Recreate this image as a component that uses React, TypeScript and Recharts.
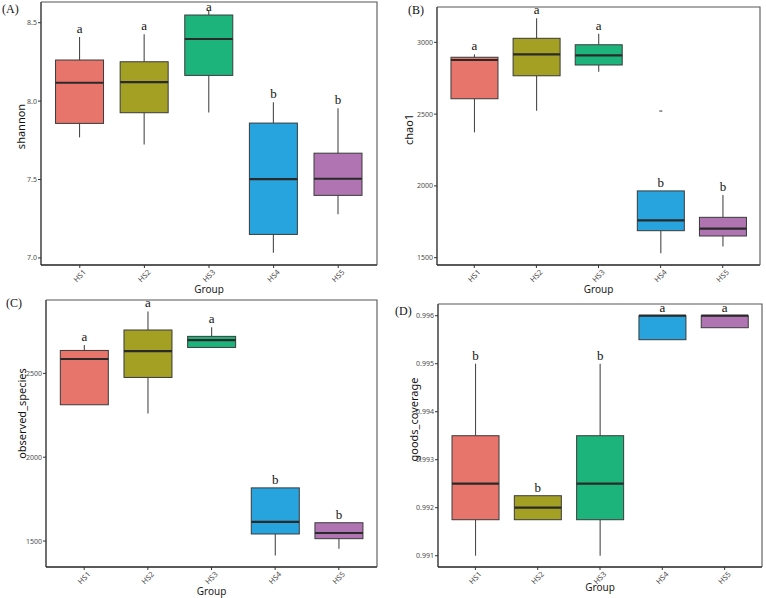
import React from 'react';
import { ComposedChart, Bar, XAxis, YAxis } from 'recharts';

const groups = ['HS1', 'HS2', 'HS3', 'HS4', 'HS5'];
const groupColors = ['#E8756B', '#A3A024', '#1DB47C', '#27A4DE', '#B074B2'];

// (A) shannon
const shannonMin = [7.769, 7.724, 7.928, 7.033, 7.279];
const shannonQ1 = [7.858, 7.926, 8.164, 7.15, 7.399];
const shannonMedian = [8.117, 8.121, 8.396, 7.503, 7.505];
const shannonQ3 = [8.262, 8.251, 8.549, 7.86, 7.668];
const shannonMax = [8.409, 8.426, 8.581, 7.992, 7.954];
const shannonLetters = ['a', 'a', 'a', 'b', 'b'];
const shannonTicks = [7.0, 7.5, 8.0, 8.5];
const shannonDomain = [6.955, 8.632];

// (B) chao1
const chao1Min = [2373, 2524, 2795, 1531, 1577];
const chao1Q1 = [2607, 2767, 2842, 1688, 1651];
const chao1Median = [2877, 2916, 2909, 1760, 1702];
const chao1Q3 = [2896, 3028, 2983, 1965, 1781];
const chao1Max = [2916, 3167, 3060, 1965, 1937];
const chao1Outliers = [[], [], [], [2522], []];
const chao1Letters = ['a', 'a', 'a', 'b', 'b'];
const chao1Ticks = [1500, 2000, 2500, 3000];
const chao1Domain = [1449, 3246];

// (C) observed_species
const obsMin = [2313, 2261, 2655, 1414, 1454];
const obsQ1 = [2313, 2476, 2655, 1542, 1514];
const obsMedian = [2586, 2633, 2699, 1614, 1548];
const obsQ3 = [2637, 2759, 2721, 1817, 1609];
const obsMax = [2669, 2870, 2775, 1817, 1609];
const obsLetters = ['a', 'a', 'a', 'b', 'b'];
const obsTicks = [1500, 2000, 2500];
const obsDomain = [1345, 2938];

// (D) goods_coverage
const goodsMin = [0.991, 0.99175, 0.991, 0.9955, 0.99575];
const goodsQ1 = [0.99175, 0.99175, 0.99175, 0.9955, 0.99575];
const goodsMedian = [0.9925, 0.992, 0.9925, 0.996, 0.996];
const goodsQ3 = [0.9935, 0.99225, 0.9935, 0.996, 0.996];
const goodsMax = [0.995, 0.99225, 0.995, 0.996, 0.996];
const goodsLetters = ['b', 'b', 'b', 'a', 'a'];
const goodsTicks = [0.991, 0.992, 0.993, 0.994, 0.995, 0.996];
const goodsDomain = [0.990765, 0.996244];

const makeData = (
  mins: number[], q1s: number[], meds: number[], q3s: number[], maxs: number[],
  letters: string[], outliers?: number[][]
) =>
  groups.map((g, i) => ({
    group: g,
    range: [mins[i], maxs[i]],
    min: mins[i],
    q1: q1s[i],
    median: meds[i],
    q3: q3s[i],
    max: maxs[i],
    letter: letters[i],
    outliers: outliers ? outliers[i] : [],
    color: groupColors[i],
  }));

const SANS = "'Noto Sans', 'Open Sans', sans-serif";
const SERIF = "'Liberation Serif', 'DejaVu Serif', serif";

const BoxShape = (props: any) => {
  const { x, y, width, height, payload } = props;
  if (!payload || x == null || y == null) return null;
  const top = Math.min(y, y + height);
  const h = Math.abs(height);
  const span = payload.max - payload.min;
  const py = (v: number) => (span === 0 ? top : top + (h * (payload.max - v)) / span);
  const cx = x + width / 2;
  const yQ3 = py(payload.q3);
  const yQ1 = py(payload.q1);
  const yMed = py(payload.median);
  const yMax = py(payload.max);
  const yMin = py(payload.min);
  return (
    <g>
      {yMax < yQ3 && <line x1={cx} x2={cx} y1={yMax} y2={yQ3} stroke="#4a4a4a" strokeWidth={1.1} />}
      {yMin > yQ1 && <line x1={cx} x2={cx} y1={yQ1} y2={yMin} stroke="#4a4a4a" strokeWidth={1.1} />}
      <rect x={x} y={yQ3} width={width} height={Math.max(yQ1 - yQ3, 0.5)} fill={payload.color} stroke="#3a3a3a" strokeWidth={1} />
      <line x1={x} x2={x + width} y1={yMed} y2={yMed} stroke="#2a2a2a" strokeWidth={2.2} />
      {payload.outliers.map((o: number, k: number) => (
        <rect key={k} x={cx - 1.5} y={py(o) - 0.5} width={3} height={1.2} fill="#555" />
      ))}
      <text x={cx} y={Math.max(yMax - 4, 11)} textAnchor="middle" fontFamily={SERIF} fontSize={13} fill="#111">
        {payload.letter}
      </text>
    </g>
  );
};

type PanelProps = {
  left: number; top: number; width: number; height: number;
  frame: { x0: number; x1: number; y0: number; y1: number };
  data: any[]; domain: number[]; ticks: number[]; fmt: (v: number) => string;
  yTitle: string; yTitleX: number; yTitleDy: number;
  tag: string; tagX: number; tagY: number; groupY: number;
};

const Panel = (p: PanelProps) => {
  const { frame, width, height } = p;
  const plotW = frame.x1 - frame.x0;
  const pad = plotW / 52;
  const margin = { top: frame.y0, right: width - frame.x1, bottom: 0, left: 0 };
  const yAxisWidth = frame.x0;
  const xAxisHeight = height - frame.y1;
  const midY = (frame.y0 + frame.y1) / 2 + p.yTitleDy;
  return (
    <div style={{ position: 'absolute', left: p.left, top: p.top, width, height }}>
      <ComposedChart width={width} height={height} data={p.data} margin={margin} barCategoryGap="12.5%">
        <XAxis
          dataKey="group"
          height={xAxisHeight}
          padding={{ left: pad, right: pad }}
          tick={{ angle: -45, textAnchor: 'end', fontSize: 7.5, fill: '#4d4d4d', fontFamily: SANS, dx: 3, dy: -1 }}
          tickLine={{ stroke: '#333' }}
          tickSize={3}
          interval={0}
          axisLine={{ stroke: '#222', strokeWidth: 1.3 }}
        />
        <YAxis
          type="number"
          domain={p.domain}
          ticks={p.ticks}
          interval={0}
          width={yAxisWidth}
          tickSize={3}
          tickMargin={1}
          tickFormatter={p.fmt}
          tick={{ fontSize: 7, fill: '#4d4d4d', fontFamily: SANS }}
          tickLine={{ stroke: '#333' }}
          axisLine={{ stroke: '#222', strokeWidth: 1.3 }}
        />
        <Bar dataKey="range" isAnimationActive={false} shape={BoxShape} />
      </ComposedChart>
      <svg width={width} height={height} style={{ position: 'absolute', left: 0, top: 0, pointerEvents: 'none' }}>
        <polyline
          points={`${frame.x0},${frame.y0} ${frame.x1},${frame.y0} ${frame.x1},${frame.y1}`}
          fill="none"
          stroke="#555"
          strokeWidth={1.1}
        />
        <text
          x={p.yTitleX}
          y={midY}
          transform={`rotate(-90 ${p.yTitleX} ${midY})`}
          textAnchor="middle"
          dominantBaseline="central"
          fontFamily={SANS}
          fontSize={11}
          fill="#111"
        >
          {p.yTitle}
        </text>
        <text
          x={(frame.x0 + frame.x1) / 2}
          y={p.groupY}
          textAnchor="middle"
          dominantBaseline="central"
          fontFamily={SANS}
          fontSize={10}
          fill="#222"
        >
          Group
        </text>
        <text x={p.tagX} y={p.tagY} fontFamily={SERIF} fontSize={12} fill="#111" dominantBaseline="central">
          {p.tag}
        </text>
      </svg>
    </div>
  );
};

const fmt1 = (v: number) => v.toFixed(1);
const fmt0 = (v: number) => String(Math.round(v));
const fmt3 = (v: number) => v.toFixed(3);

export default function App() {
  const shannonData = makeData(shannonMin, shannonQ1, shannonMedian, shannonQ3, shannonMax, shannonLetters);
  const chao1Data = makeData(chao1Min, chao1Q1, chao1Median, chao1Q3, chao1Max, chao1Letters, chao1Outliers);
  const obsData = makeData(obsMin, obsQ1, obsMedian, obsQ3, obsMax, obsLetters);
  const goodsData = makeData(goodsMin, goodsQ1, goodsMedian, goodsQ3, goodsMax, goodsLetters);
  return (
    <div style={{ position: 'absolute', left: 0, top: 0, width: 766, height: 598, background: '#fff', overflow: 'hidden' }}>
      <Panel
        left={0} top={0} width={383} height={295}
        frame={{ x0: 41, x1: 377, y0: 2, y1: 265 }}
        data={shannonData} domain={shannonDomain} ticks={shannonTicks} fmt={fmt1}
        yTitle="shannon" yTitleX={20.5} yTitleDy={-7}
        tag="(A)" tagX={2} tagY={9} groupY={289}
      />
      <Panel
        left={383} top={0} width={383} height={295}
        frame={{ x0: 54, x1: 377, y0: 7, y1: 265 }}
        data={chao1Data} domain={chao1Domain} ticks={chao1Ticks} fmt={fmt0}
        yTitle="chao1" yTitleX={25} yTitleDy={-6.5}
        tag="(B)" tagX={25} tagY={10} groupY={289}
      />
      <Panel
        left={0} top={295} width={383} height={303}
        frame={{ x0: 46, x1: 377, y0: 5, y1: 272 }}
        data={obsData} domain={obsDomain} ticks={obsTicks} fmt={fmt0}
        yTitle="observed_species" yTitleX={21.5} yTitleDy={-20}
        tag="(C)" tagX={6} tagY={8} groupY={296}
      />
      <Panel
        left={383} top={295} width={383} height={303}
        frame={{ x0: 55, x1: 379, y0: 9, y1: 272 }}
        data={goodsData} domain={goodsDomain} ticks={goodsTicks} fmt={fmt3}
        yTitle="goods_coverage" yTitleX={30} yTitleDy={-16}
        tag="(D)" tagX={12} tagY={16} groupY={292}
      />
    </div>
  );
}
